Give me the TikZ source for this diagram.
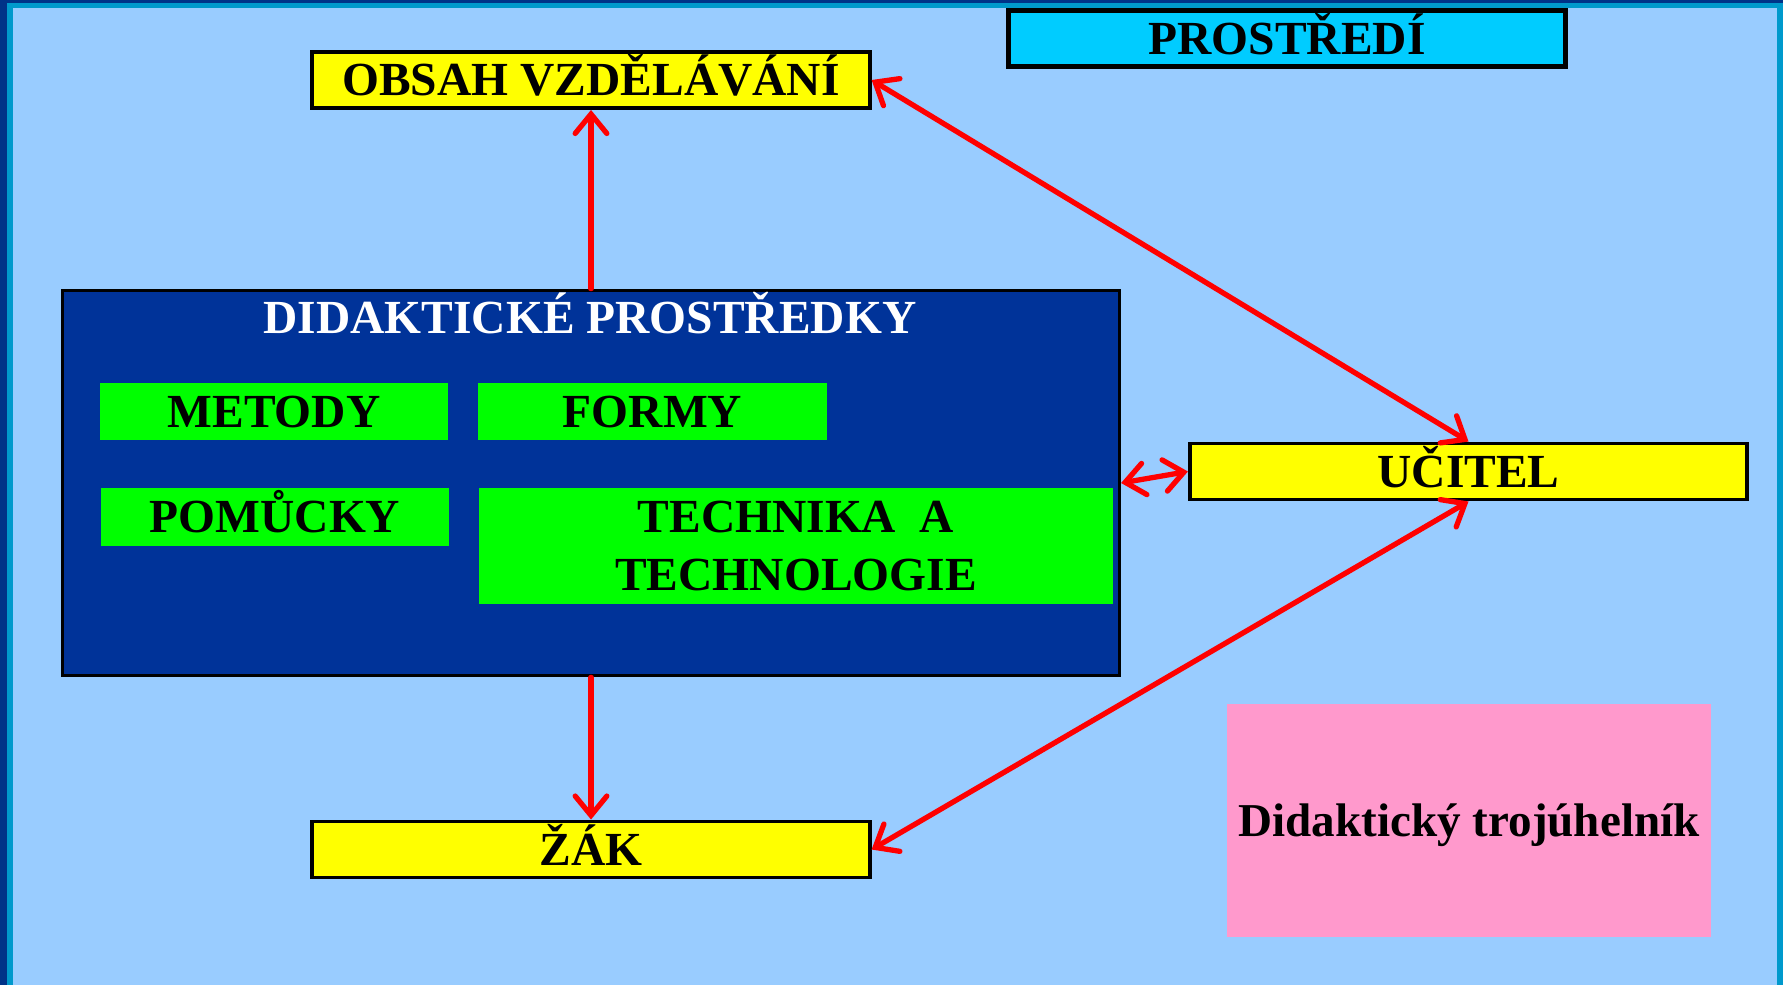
\documentclass[tikz,border=0pt]{standalone}
\usepackage{fontspec}
\setmainfont{Liberation Serif}
\usetikzlibrary{arrows.meta}
\definecolor{slidebg}{HTML}{99CCFF}
\definecolor{framedark}{HTML}{003388}
\definecolor{frameteal}{HTML}{0099CC}
\definecolor{dpblue}{HTML}{003399}
\definecolor{boxyellow}{HTML}{FFFF00}
\definecolor{boxgreen}{HTML}{00FF00}
\definecolor{boxcyan}{HTML}{00CCFF}
\definecolor{boxpink}{HTML}{FF99CC}
\definecolor{arrowred}{HTML}{FF0000}
\begin{document}
\begin{tikzpicture}
[x=0.01cm, y=-0.01cm,
  boxtext/.style={font=\fontsize{13.5}{16.4}\selectfont\bfseries, inner sep=0pt,
    text height=9pt, text depth=0pt},%
  yellowbox/.style={boxtext, draw=black, line width=1.1pt, fill=boxyellow,
    minimum width=5.57cm, minimum height=0.56cm},%
  greenbox/.style={boxtext, fill=boxgreen, minimum width=3.48cm, minimum height=0.57cm},%
  linedecorate/.style={draw=arrowred, line width=1.5pt, line cap=round, line join=round},%
  oneway/.style={linedecorate, -{Straight Barb[length=5.5pt,width=9pt,line cap=round]}},%
  twoway/.style={linedecorate, {Straight Barb[length=5.5pt,width=9pt,line cap=round]}-{Straight Barb[length=5.5pt,width=9pt,line cap=round]}}]
%% slide background and frame
\useasboundingbox (0,0) rectangle (1783,985);
\fill[framedark] (0,0) rectangle (1783,985);
\fill[frameteal] (7,3) rectangle (1783,985);
\fill[slidebg] (13,8) rectangle (1777,985);
%% boxes
\node (prostredi) at (1287,38.5) [yellowbox, fill=boxcyan, line width=1.3pt] {PROSTŘEDÍ};
\foreach \nodename/\x/\y/\txt in {obsah/591/80/OBSAH VZDĚLÁVÁNÍ,
  zak/591/849.5/ŽÁK, ucitel/1468.5/471.5/UČITEL}
{
  \node (\nodename) at (\x,\y) [yellowbox] {\txt};
}
\node (didakt) at (591,483) [draw=black, line width=1pt, fill=dpblue,
  minimum width=10.56cm, minimum height=3.85cm] {};
\node (dptitle) at (590,318) [boxtext, text=white] {DIDAKTICKÉ PROSTŘEDKY};
\foreach \nodename/\x/\y/\txt in {metody/274/411.5/METODY, formy/652.5/411.5/FORMY,
  pomucky/275/517/POMŮCKY}
{
  \node (\nodename) at (\x,\y) [greenbox] {\txt};
}
\node (technika) at (796,546) [greenbox, minimum width=6.34cm, minimum height=1.16cm,
  text height=, text depth=, align=center] {TECHNIKA\ \ A\\TECHNOLOGIE};
\node (trojuhelnik) at (1469,820.5) [boxtext, fill=boxpink, font=\fontsize{13.4}{16}\selectfont\bfseries,
  minimum width=4.84cm, minimum height=2.33cm] {Didaktický trojúhelník};
%% arrows
\path
\foreach \startnode/\endnode in {didakt.north/obsah.south, didakt.south/zak.north}
{
  (\startnode) edge[oneway] (\endnode)
};
\path
\foreach \startnode/\endnode in {obsah.east/ucitel.north, ucitel.south/zak.east,
  didakt.east/ucitel.west}
{
  (\startnode) edge[twoway] (\endnode)
};
\end{tikzpicture}
\end{document}
